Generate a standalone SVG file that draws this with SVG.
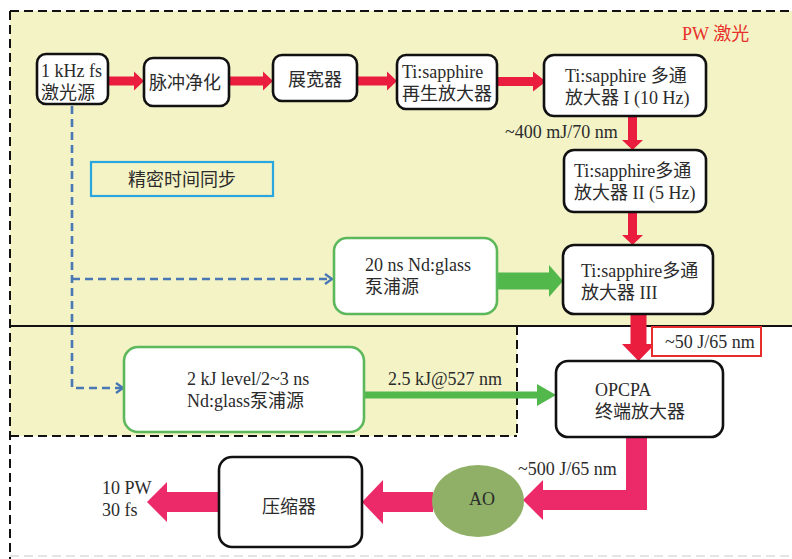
<svg xmlns="http://www.w3.org/2000/svg" width="792" height="559" viewBox="0 0 792 559">
<style>
.t{font-family:"Liberation Serif","Noto Sans CJK SC",serif;font-size:18px;fill:#2b2b2b}
.box{fill:#fff;stroke:#111;stroke-width:2.6}
.gbox{fill:#fff;stroke:#5cb85a;stroke-width:2.6}
.red{fill:#ea1d3f}
.pink{fill:#ec2a6a}
.green{fill:#52b84c}
.dash{fill:none;stroke:#111;stroke-width:2;stroke-dasharray:9 5}
.blue{fill:none;stroke:#4a78b5;stroke-width:2.6;stroke-dasharray:8 5}
.bhead{fill:none;stroke:#4a78b5;stroke-width:2.4}
</style>
<rect width="792" height="559" fill="#fff"/>
<g id="background">
<rect x="10" y="11" width="782" height="315" fill="#f3f3c6"/>
<rect x="10" y="326" width="507" height="110" fill="#f3f3c6"/>
<line class="dash" x1="10" y1="11" x2="792" y2="11"/>
<line class="dash" x1="10" y1="11" x2="10" y2="559"/>
<line x1="10" y1="326" x2="792" y2="326" stroke="#111" stroke-width="2"/>
<line class="dash" x1="10" y1="436" x2="517" y2="436"/>
<line class="dash" x1="517" y1="326" x2="517" y2="436"/>
<line x1="10" y1="556" x2="792" y2="556" stroke="#ddd" stroke-width="1.5" stroke-dasharray="9 5"/>
<text class="t" x="682" y="40" style="fill:#e8302a">PW 激光</text>
</g>
<g id="connectors">
<polygon class="red" points="108,76.5 134,76.5 134,71.5 144,81 134,90.5 134,85.5 108,85.5"/>
<polygon class="red" points="229,76.5 263,76.5 263,71.5 273,81 263,90.5 263,85.5 229,85.5"/>
<polygon class="red" points="357,76.5 387,76.5 387,71.5 397,81 387,90.5 387,85.5 357,85.5"/>
<polygon class="red" points="497,77 533,77 533,71.5 546,81.5 533,91.5 533,86 497,86"/>
<polygon class="red" points="628,116 637,116 637,140 643,140 632.5,150 622,140 628,140"/>
<polygon class="red" points="628,212 637,212 637,235 643,235 632.5,245 622,235 628,235"/>
<polygon class="red" points="630.5,314 646.5,314 646.5,344 655,344 638.5,361 622,344 630.5,344"/>
<polygon class="green" points="497,272.5 549,272.5 549,265 563,281 549,297 549,289.5 497,289.5"/>
<polygon class="green" points="364,391.5 537,391.5 537,384 556,395 537,406 537,398.5 364,398.5"/>
<polygon class="pink" points="626,437 647,437 647,510 543,510 543,520 523,500 543,480 543,490 626,490"/>
<polygon class="pink" points="433,492 383,492 383,480 362,502 383,524 383,512 433,512"/>
<polygon class="pink" points="219,492 167,492 167,482 147,502 167,522 167,512 219,512"/>
<path class="blue" d="M72,106 V388 H121"/>
<polyline class="bhead" points="116,383 123,388 116,393"/>
<path class="blue" d="M72,279 H331"/>
<polyline class="bhead" points="325,274 332,279 325,284"/>
<text class="t" x="505" y="138">~400 mJ/70 nm</text>
<rect x="652" y="327" width="109" height="29" fill="#fff" stroke="#e82c2c" stroke-width="2"/>
<text class="t" x="665" y="348">~50 J/65 nm</text>
<text class="t" x="388" y="385">2.5 kJ@527 nm</text>
<text class="t" x="518" y="475">~500 J/65 nm</text>
<text class="t" x="102" y="494">10 PW</text>
<text class="t" x="102" y="516">30 fs</text>
</g>
<g id="n1"><rect class="box" x="37" y="54" width="71" height="50" rx="9"/>
<text class="t" x="41" y="77">1 kHz fs</text><text class="t" x="41" y="99">激光源</text></g>
<g id="n2"><rect class="box" x="144" y="58" width="85" height="48" rx="9"/>
<text class="t" x="149" y="89">脉冲净化</text></g>
<g id="n3"><rect class="box" x="273" y="55" width="84" height="46" rx="9"/>
<text class="t" x="288" y="86">展宽器</text></g>
<g id="n4"><rect class="box" x="397" y="55" width="100" height="54" rx="9"/>
<text class="t" x="402" y="78">Ti:sapphire</text><text class="t" x="402" y="100">再生放大器</text></g>
<g id="n5"><rect class="box" x="544" y="55" width="162" height="61" rx="10"/>
<text class="t" x="565" y="82">Ti:sapphire 多通</text><text class="t" x="565" y="104">放大器 I (10 Hz)</text></g>
<g id="n6"><rect class="box" x="564" y="150" width="142" height="62" rx="10"/>
<text class="t" x="574" y="177">Ti:sapphire多通</text><text class="t" x="574" y="199">放大器 II (5 Hz)</text></g>
<g id="n7"><rect class="box" x="563" y="245" width="150" height="69" rx="11"/>
<text class="t" x="581" y="277">Ti:sapphire多通</text><text class="t" x="581" y="299">放大器 III</text></g>
<g id="n8"><rect class="gbox" x="334" y="238" width="163" height="76" rx="13"/>
<text class="t" x="365" y="271">20 ns Nd:glass</text><text class="t" x="365" y="293">泵浦源</text></g>
<g id="sync"><rect x="91" y="162" width="182" height="34" fill="none" stroke="#2aa6df" stroke-width="2.2"/>
<text class="t" x="128" y="186">精密时间同步</text></g>
<g id="n9"><rect class="gbox" x="124" y="347" width="240" height="85" rx="14"/>
<text class="t" x="187" y="385">2 kJ level/2~3 ns</text><text class="t" x="187" y="407">Nd:glass泵浦源</text></g>
<g id="n10"><rect class="box" x="556" y="361" width="167" height="76" rx="12"/>
<text class="t" x="595" y="396">OPCPA</text><text class="t" x="595" y="418">终端放大器</text></g>
<g id="ao"><ellipse cx="478" cy="501" rx="46" ry="36" fill="#8fb066"/>
<text class="t" x="469" y="505">AO</text></g>
<g id="n11"><rect class="box" x="219" y="457" width="143" height="90" rx="13"/>
<text class="t" x="262" y="513">压缩器</text></g>
</svg>
